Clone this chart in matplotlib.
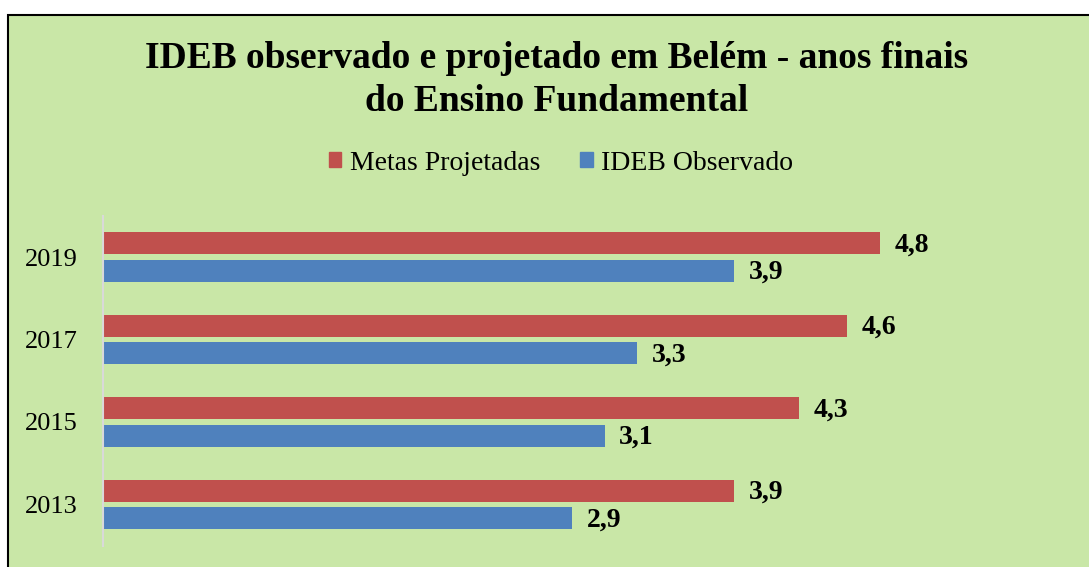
import matplotlib
matplotlib.use("Agg")
import matplotlib.pyplot as plt
from matplotlib.patches import Rectangle, Patch
import numpy as np

years = ["2013", "2015", "2017", "2019"]
metas = [3.9, 4.3, 4.6, 4.8]
ideb = [2.9, 3.1, 3.3, 3.9]
series_names = ["Metas Projetadas", "IDEB Observado"]
title = "IDEB observado e projetado em Belém - anos finais\ndo Ensino Fundamental"

RED = "#C0504D"
BLUE = "#4F81BD"
BG = "#C9E7A7"

plt.rcParams['font.family'] = ['Liberation Serif', 'DejaVu Serif']

fig = plt.figure(figsize=(10.89, 5.67), dpi=100)
fig.patch.set_facecolor("white")
# chart area box
fig.patches.append(Rectangle((8/1089, -0.1), 1.2, 1 - 15/567 + 0.1, transform=fig.transFigure,
                             facecolor=BG, edgecolor="black", linewidth=1.5, zorder=-10))

ax = fig.add_axes([103/1089, 1 - 545.5/567, 971/1089, (545.5 - 216)/567])
ax.set_zorder(5)
ax.set_facecolor("none")
y = np.arange(len(years))
h = 0.267
off = 0.167
ax.barh(y + off, metas, height=h, color=RED, label=series_names[0])
ax.barh(y - off, ideb, height=h, color=BLUE, label=series_names[1])

for yi, v in zip(y, metas):
    ax.text(v + 0.09, yi + off - 0.02, f"{v:.1f}".replace(".", ","), va="center", ha="left",
            fontsize=20, fontweight="bold")
for yi, v in zip(y, ideb):
    ax.text(v + 0.09, yi - off - 0.02, f"{v:.1f}".replace(".", ","), va="center", ha="left",
            fontsize=20, fontweight="bold")

ax.set_xlim(0, 6)
ax.set_ylim(-0.5, len(years) - 0.5)
ax.set_yticks(y)
ax.set_yticklabels(years, fontsize=19)
ax.set_xticks([])
ax.tick_params(axis="y", length=0, pad=18)
for s in ["top", "right", "bottom"]:
    ax.spines[s].set_visible(False)
ax.spines["left"].set_color("#D9D9D9")
ax.spines["left"].set_linewidth(1.5)

fig.text(557/1089, 1 - 80/567, title, ha="center", va="center", fontsize=27,
         fontweight="bold", linespacing=1.27)

handles = [Patch(color=RED), Patch(color=BLUE)]
fig.legend(handles, series_names, loc="center", bbox_to_anchor=(561/1089, 1 - 163/567),
           ncol=2, frameon=False, fontsize=20, handlelength=0.45, handleheight=0.45,
           handletextpad=0.3, columnspacing=1.45)

fig.savefig("out.png", dpi=100, facecolor=fig.get_facecolor())
